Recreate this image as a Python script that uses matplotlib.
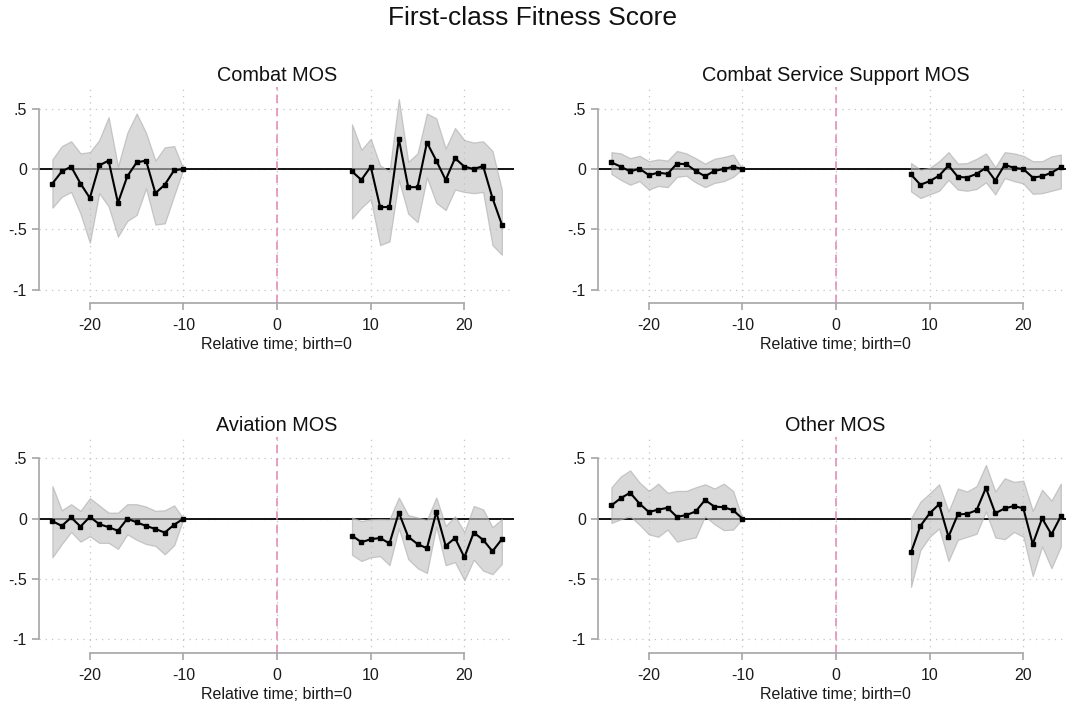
import numpy as np
import matplotlib
matplotlib.use("Agg")
from matplotlib import pyplot as plt

plt.rcParams['font.family'] = ['Liberation Sans', 'DejaVu Sans']
plt.rcParams['axes.unicode_minus'] = False

# event time, split around the omitted window
t_pre = list(range(-24, -9))
t_post = list(range(8, 25))

titles = ["Combat MOS", "Combat Service Support MOS", "Aviation MOS", "Other MOS"]

# Combat MOS
combat_pre = [-0.12, -0.02, 0.02, -0.12, -0.24, 0.03, 0.07, -0.28, -0.06, 0.055, 0.07, -0.2, -0.13, -0.01, 0]
combat_pre_hi = [0.08, 0.19, 0.23, 0.13, 0.14, 0.24, 0.43, 0.02, 0.3, 0.46, 0.3, 0.07, 0.18, 0.19, 0]
combat_pre_lo = [-0.32, -0.23, -0.19, -0.37, -0.61, -0.2, -0.31, -0.56, -0.43, -0.38, -0.16, -0.46, -0.45, -0.22, 0]
combat_post = [-0.02, -0.09, 0.02, -0.315, -0.315, 0.25, -0.15, -0.15, 0.22, 0.07, -0.09, 0.09, 0.02, 0, 0.025, -0.24, -0.46]
combat_post_hi = [0.37, 0.16, 0.25, 0.03, -0.02, 0.58, 0.06, 0.13, 0.46, 0.42, 0.17, 0.34, 0.24, 0.22, 0.23, 0.15, -0.17]
combat_post_lo = [-0.41, -0.32, -0.25, -0.63, -0.6, -0.09, -0.37, -0.44, -0.07, -0.28, -0.34, -0.17, -0.19, -0.2, -0.19, -0.63, -0.71]

# Combat Service Support MOS
css_pre = [0.055, 0.02, -0.02, 0.003, -0.05, -0.03, -0.04, 0.045, 0.04, -0.015, -0.06, -0.015, 0, 0.02, 0]
css_pre_hi = [0.14, 0.13, 0.09, 0.11, 0.065, 0.08, 0.07, 0.15, 0.13, 0.09, 0.045, 0.085, 0.1, 0.12, 0]
css_pre_lo = [-0.04, -0.09, -0.13, -0.1, -0.17, -0.14, -0.15, -0.065, -0.055, -0.11, -0.15, -0.115, -0.1, -0.065, 0]
css_post = [-0.045, -0.13, -0.1, -0.055, 0.03, -0.065, -0.07, -0.04, 0.01, -0.095, 0.035, 0.01, 0, -0.07, -0.06, -0.03, 0.015]
css_post_hi = [0.05, -0.005, 0.01, 0.065, 0.14, 0.045, 0.05, 0.085, 0.13, 0.015, 0.14, 0.13, 0.11, 0.065, 0.065, 0.105, 0.12]
css_post_lo = [-0.185, -0.24, -0.21, -0.18, -0.09, -0.17, -0.18, -0.165, -0.11, -0.21, -0.075, -0.1, -0.12, -0.205, -0.2, -0.18, -0.16]

# Aviation MOS
avi_pre = [-0.02, -0.06, 0.01, -0.065, 0.015, -0.045, -0.07, -0.1, 0, -0.03, -0.06, -0.085, -0.115, -0.05, 0]
avi_pre_hi = [0.27, 0.07, 0.12, 0.065, 0.17, 0.11, 0.05, 0.05, 0.12, 0.12, 0.1, 0.065, 0.07, 0.11, 0]
avi_pre_lo = [-0.32, -0.21, -0.11, -0.19, -0.145, -0.2, -0.2, -0.25, -0.13, -0.175, -0.21, -0.225, -0.295, -0.22, 0]
avi_post = [-0.14, -0.195, -0.17, -0.16, -0.205, 0.05, -0.15, -0.21, -0.245, 0.055, -0.225, -0.16, -0.32, -0.115, -0.175, -0.27, -0.17]
avi_post_hi = [0.01, -0.02, -0.005, -0.003, -0.005, 0.175, 0.03, 0.01, -0.01, 0.175, -0.06, 0.02, -0.11, 0.105, 0.077, -0.07, -0.003]
avi_post_lo = [-0.3, -0.35, -0.32, -0.31, -0.385, -0.08, -0.335, -0.41, -0.45, -0.065, -0.385, -0.36, -0.51, -0.34, -0.43, -0.46, -0.375]

# Other MOS
oth_pre = [0.11, 0.17, 0.215, 0.125, 0.055, 0.075, 0.09, 0.015, 0.03, 0.06, 0.155, 0.1, 0.095, 0.07, 0]
oth_pre_hi = [0.26, 0.35, 0.4, 0.3, 0.23, 0.29, 0.215, 0.23, 0.23, 0.26, 0.285, 0.25, 0.29, 0.23, 0]
oth_pre_lo = [-0.035, -0.005, 0.02, -0.05, -0.13, -0.15, -0.09, -0.19, -0.17, -0.155, 0.02, -0.045, -0.095, -0.09, 0]
oth_post = [-0.28, -0.06, 0.045, 0.12, -0.15, 0.035, 0.04, 0.07, 0.255, 0.045, 0.085, 0.105, 0.085, -0.21, 0.003, -0.13, 0.02]
oth_post_hi = [0.003, 0.14, 0.21, 0.285, 0.06, 0.25, 0.225, 0.27, 0.445, 0.225, 0.335, 0.305, 0.315, 0.065, 0.24, 0.15, 0.29]
oth_post_lo = [-0.565, -0.26, -0.15, -0.08, -0.35, -0.175, -0.15, -0.125, 0.06, -0.155, -0.17, -0.11, -0.15, -0.475, -0.23, -0.41, -0.23]

panels = [
    (combat_pre, combat_pre_lo, combat_pre_hi, combat_post, combat_post_lo, combat_post_hi),
    (css_pre, css_pre_lo, css_pre_hi, css_post, css_post_lo, css_post_hi),
    (avi_pre, avi_pre_lo, avi_pre_hi, avi_post, avi_post_lo, avi_post_hi),
    (oth_pre, oth_pre_lo, oth_pre_hi, oth_post, oth_post_lo, oth_post_hi),
]

W, H = 1066, 708
fig = plt.figure(figsize=(W / 100, H / 100), dpi=100)
fig.suptitle("First-class Fitness Score", fontsize=19, y=1 - 18 / H, va='center', color='#111111')

# axes boxes in pixels: left, top, right, bottom
boxes = [(39.3, 87, 514, 303), (598.3, 87, 1073, 303),
         (39.3, 436.6, 514, 652.7), (598.3, 436.6, 1073, 652.7)]

gray = '#a6a6a6'
for box, title, (b0, lo0, hi0, b1, lo1, hi1) in zip(boxes, titles, panels):
    l, t, r, b = box
    ax = fig.add_axes([l / W, 1 - b / H, (r - l) / W, (b - t) / H])
    ax.set_xlim(-25.4, 25.3)
    ax.set_ylim(-1.11, 0.68)

    ax.grid(True, ls=(0, (1, 4)), color='#c4c4c4', lw=0.9)
    ax.set_axisbelow(True)
    ax.axhline(0, color='black', lw=1.3, zorder=1.5)
    ax.axvline(0, color='#e38fba', lw=1.2, ls=(0, (5, 3)), zorder=1.6)

    for tt, bb, lo, hi in [(t_pre, b0, lo0, hi0), (t_post, b1, lo1, hi1)]:
        ax.fill_between(tt, lo, hi, facecolor=(0.76, 0.76, 0.76), edgecolor=(0.68, 0.68, 0.68),
                        alpha=0.62, lw=0.9, zorder=2)
        ax.plot(tt, bb, color='black', lw=1.5, marker='s', ms=3.4, zorder=3)

    for side in ['top', 'right']:
        ax.spines[side].set_visible(False)
    ax.spines['left'].set_bounds(-1, 0.5)
    ax.spines['bottom'].set_bounds(-20, 20)
    for side in ['left', 'bottom']:
        ax.spines[side].set_color(gray)
        ax.spines[side].set_linewidth(1.2)

    ax.set_yticks([-1, -0.5, 0, 0.5])
    ax.set_yticklabels(['-1', '-.5', '0', '.5'])
    ax.set_xticks([-20, -10, 0, 10, 20])
    ax.tick_params(axis='both', colors=gray, labelcolor='#1a1a1a', width=1.2,
                   length=5, labelsize=11.5)
    ax.tick_params(axis='x', pad=6)
    ax.tick_params(axis='y', pad=4)
    ax.set_xlabel("Relative time; birth=0", fontsize=11.5, labelpad=3, color='#1a1a1a')
    ax.set_title(title, fontsize=14.3, pad=4, color='#111111')

fig.savefig("out.png", dpi=100)
